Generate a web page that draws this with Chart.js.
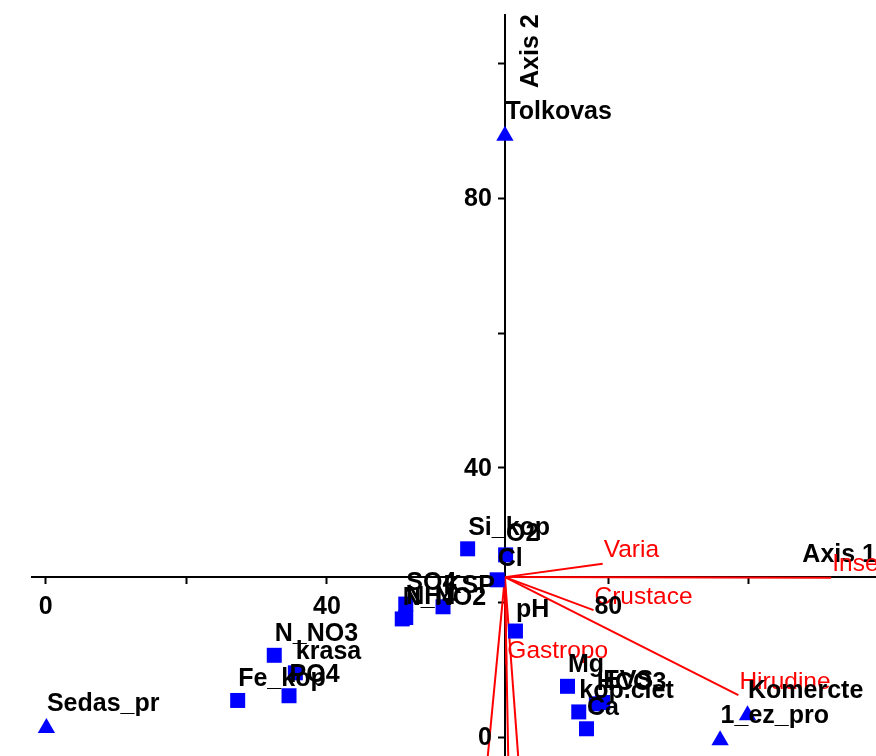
<!DOCTYPE html>
<html>
<head>
<meta charset="utf-8">
<title>CCA biplot</title>
<script src="https://cdn.jsdelivr.net/npm/chart.js@4.4.1/dist/chart.umd.min.js"></script>
<style>
  html, body { margin: 0; padding: 0; background: #ffffff; }
  canvas { display: block; }
</style>
</head>
<body>
<canvas id="biplot" width="876" height="756"></canvas>
<script>
// Centre of the ordination: the axes cross here and species vectors start here
const originX = 65.3;
const originY = 23.8;

// Visible extent of both axes
const xMin = -1.95, xMax = 118.07;
const yMin = -2.74, yMax = 107.2;

// Tick positions and the ticks that carry a number
const tickValues = [0, 20, 40, 60, 80, 100];
const labelledTicks = [0, 40, 80];

// Sites (triangles)
const siteNames = ['Tolkovas', 'Sedas_pr', 'Komercte', '1_ez_pro'];
const siteX = [65.3, 0.1, 99.8, 95.9];
const siteY = [89.3, 1.4, 3.3, -0.4];

// Environmental variables (squares)
const envNames = ['Si_kop', 'O2', 'Cl', 'KSP', 'SO4', 'NH4', 'N_NO2', 'pH', 'Mg', 'HCO3', 'EVS',
                  'kop.ciet', 'Ca', 'N_NO3', 'krasa', 'PO4', 'Fe_kop'];
const envX = [60.0, 65.4, 64.2, 56.5, 51.2, 51.2, 50.7, 66.8, 74.2, 78.3, 79.2,
              75.8, 76.9, 32.5, 35.5, 34.6, 27.3];
const envY = [28.0, 27.1, 23.4, 19.4, 19.8, 17.8, 17.6, 15.8, 7.6, 5.0, 5.2,
              3.8, 1.3, 12.2, 9.6, 6.2, 5.5];

// Species vectors (end points; the last three run past the bottom edge)
const speciesNames = ['Varia', 'Insecta', 'Crustace', 'Hirudine', 'Gastropo', '', '', ''];
const speciesX = [79.2, 111.7, 77.9, 98.5, 65.5, 62.2, 65.9, 67.7];
const speciesY = [25.8, 23.7, 18.9, 6.3, 10.8, -10.0, -10.0, -10.0];

const FONT_FAMILY = '"Liberation Sans", Arial, Helvetica, sans-serif';
const BOLD_FONT = 'bold 25px ' + FONT_FAMILY;
const PLAIN_FONT = '24.5px ' + FONT_FAMILY;
const BLUE = '#0000ff';
const RED = '#ff0000';

const speciesDatasets = speciesNames.map((name, i) => ({
  label: name,
  kind: 'species',
  data: [{ x: originX, y: originY }, { x: speciesX[i], y: speciesY[i] }],
  showLine: true,
  borderColor: RED,
  borderWidth: 2,
  pointRadius: 0,
  fill: false,
  order: 3,
  clip: false
}));

const envDataset = {
  label: 'Environment',
  kind: 'env',
  names: envNames,
  data: envX.map((x, i) => ({ x, y: envY[i] })),
  pointStyle: 'rect',
  pointRadius: 10.6,
  backgroundColor: BLUE,
  borderWidth: 0,
  order: 2
};

const siteDataset = {
  label: 'Sites',
  kind: 'site',
  names: siteNames,
  data: siteX.map((x, i) => ({ x, y: siteY[i] })),
  pointStyle: 'triangle',
  pointRadius: 10,
  backgroundColor: BLUE,
  borderWidth: 0,
  order: 1
};

const fixedTicks = scale => { scale.ticks = tickValues.map(v => ({ value: v })); };

// Text on top of the marks: axis names, vector names, point names, tick numbers
const biplotText = {
  id: 'biplotText',
  afterDatasetsDraw(chart) {
    const ctx = chart.ctx;
    const xs = chart.scales.x;
    const ys = chart.scales.y;
    const axisX = xs.getPixelForValue(originX);
    const axisY = ys.getPixelForValue(originY);
    ctx.save();

    // axis names
    ctx.font = BOLD_FONT;
    ctx.fillStyle = '#000';
    ctx.textAlign = 'right';
    ctx.textBaseline = 'alphabetic';
    ctx.fillText('Axis 1', chart.chartArea.right, axisY - 15);
    ctx.save();
    ctx.translate(axisX + 33, chart.chartArea.top + 73);
    ctx.rotate(-Math.PI / 2);
    ctx.textAlign = 'left';
    ctx.fillText('Axis 2', 0, 0);
    ctx.restore();

    // species names at the vector tips
    ctx.font = PLAIN_FONT;
    ctx.fillStyle = RED;
    ctx.textAlign = 'left';
    chart.data.datasets.forEach((ds, di) => {
      if (ds.kind !== 'species' || !ds.label) return;
      const tip = chart.getDatasetMeta(di).data[1];
      ctx.fillText(ds.label, tip.x + 1, tip.y - 6.5);
    });

    // names of sites and environmental variables
    ctx.font = BOLD_FONT;
    ctx.fillStyle = '#000';
    chart.data.datasets.forEach((ds, di) => {
      if (ds.kind !== 'env' && ds.kind !== 'site') return;
      const meta = chart.getDatasetMeta(di);
      const dy = ds.kind === 'site' ? -17 : -14;
      meta.data.forEach((pt, j) => {
        ctx.fillText(ds.names[j], pt.x + 0.5, pt.y + dy);
      });
    });

    // tick numbers of both axes
    ctx.textBaseline = 'middle';
    ctx.textAlign = 'center';
    xs.ticks.forEach(t => {
      if (labelledTicks.includes(t.value)) {
        ctx.fillText(String(t.value), xs.getPixelForValue(t.value), axisY + 29.5);
      }
    });
    ctx.textAlign = 'right';
    ys.ticks.forEach(t => {
      if (labelledTicks.includes(t.value)) {
        ctx.fillText(String(t.value), axisX - 13, ys.getPixelForValue(t.value) + 1);
      }
    });

    ctx.restore();
  }
};

new Chart(document.getElementById('biplot'), {
  type: 'scatter',
  data: { datasets: [...speciesDatasets, envDataset, siteDataset] },
  options: {
    responsive: false,
    animation: false,
    layout: { autoPadding: false, padding: { left: 32, top: 15, right: 0, bottom: 0 } },
    plugins: { legend: { display: false }, tooltip: { enabled: false } },
    scales: {
      x: {
        type: 'linear',
        min: xMin,
        max: xMax,
        position: { y: originY },
        afterBuildTicks: fixedTicks,
        border: { display: true, color: '#000', width: 2 },
        grid: { display: true, drawOnChartArea: false, drawTicks: true, tickLength: 6, tickWidth: 2, tickColor: '#000' },
        ticks: { display: false }
      },
      y: {
        type: 'linear',
        min: yMin,
        max: yMax,
        position: { x: originX },
        afterBuildTicks: fixedTicks,
        border: { display: true, color: '#000', width: 2 },
        grid: { display: true, drawOnChartArea: false, drawTicks: true, tickLength: 6, tickWidth: 2, tickColor: '#000' },
        ticks: { display: false }
      }
    }
  },
  plugins: [biplotText]
});
</script>
</body>
</html>
